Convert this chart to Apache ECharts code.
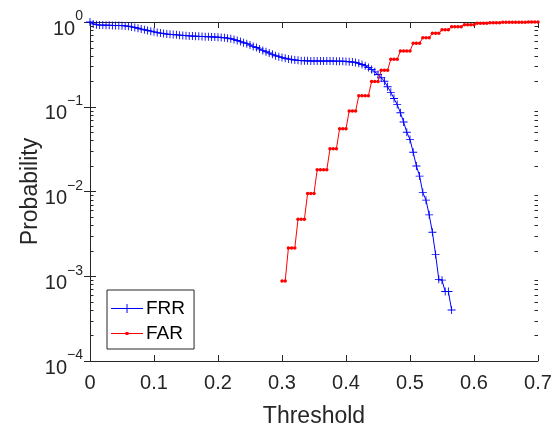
<!DOCTYPE html>
<html><head><meta charset="utf-8">
<script src="https://cdn.jsdelivr.net/npm/echarts@6/dist/echarts.min.js"></script>
<style>html,body{margin:0;padding:0;background:#fff}#c{width:555px;height:426px}</style>
</head><body><div id="c"></div>
<script>
// ---- data ----
const frrThreshold = [0,0.005,0.01,0.015,0.02,0.025,0.03,0.035,0.04,0.045,0.05,0.055,0.06,0.065,0.07,0.075,0.08,0.085,0.09,0.095,0.1,0.105,0.11,0.115,0.12,0.125,0.13,0.135,0.14,0.145,0.15,0.155,0.16,0.165,0.17,0.175,0.18,0.185,0.19,0.195,0.2,0.205,0.21,0.215,0.22,0.225,0.23,0.235,0.24,0.245,0.25,0.255,0.26,0.265,0.27,0.275,0.28,0.285,0.29,0.295,0.3,0.305,0.31,0.315,0.32,0.325,0.33,0.335,0.34,0.345,0.35,0.355,0.36,0.365,0.37,0.375,0.38,0.385,0.39,0.395,0.4,0.405,0.41,0.415,0.42,0.425,0.43,0.435,0.44,0.445,0.45,0.455,0.46,0.465,0.47,0.475,0.48,0.485,0.49,0.495,0.5,0.505,0.51,0.515,0.52,0.525,0.53,0.535,0.54,0.545,0.55,0.555,0.56,0.565];
const frrValue = [1.0,0.95,0.93,0.92,0.92,0.915,0.915,0.91,0.91,0.91,
  0.905,0.9,0.89,0.875,0.86,0.845,0.825,0.81,0.795,0.78,
  0.765,0.75,0.74,0.73,0.72,0.715,0.71,0.705,0.7,0.695,
  0.69,0.685,0.682,0.68,0.677,0.675,0.672,0.67,0.667,0.665,
  0.662,0.658,0.652,0.645,0.635,0.62,0.605,0.59,0.57,0.555,
  0.535,0.515,0.5,0.48,0.46,0.445,0.43,0.415,0.4,0.39,
  0.38,0.373,0.366,0.36,0.356,0.353,0.35,0.349,0.348,0.347,
  0.346,0.346,0.346,0.346,0.346,0.346,0.346,0.345,0.345,0.344,
  0.343,0.34,0.337,0.333,0.325,0.315,0.305,0.29,0.275,0.258,
  0.24,0.22,0.2,0.172,0.148,0.125,0.106,0.085,0.066,0.05,
  0.041,0.029,0.02,0.0152,0.0097,0.0079,0.0053,0.0033,0.0018,0.00092,
  0.0009,0.00066,0.00066,0.0004];
const farThreshold = [0.3,0.305,0.31,0.315,0.32,0.325,0.33,0.335,0.34,0.345,0.35,0.355,0.36,0.365,0.37,0.375,0.38,0.385,0.39,0.395,0.4,0.405,0.41,0.415,0.42,0.425,0.43,0.435,0.44,0.445,0.45,0.455,0.46,0.465,0.47,0.475,0.48,0.485,0.49,0.495,0.5,0.505,0.51,0.515,0.52,0.525,0.53,0.535,0.54,0.545,0.55,0.555,0.56,0.565,0.57,0.575,0.58,0.585,0.59,0.595,0.6,0.605,0.61,0.615,0.62,0.625,0.63,0.635,0.64,0.645,0.65,0.655,0.66,0.665,0.67,0.675,0.68,0.685,0.69,0.695,0.7];
const farValue = [0.00088,0.00088, 0.00215,0.00215,0.00215, 0.0047,0.0047,0.0047,
  0.0095,0.0095,0.0095, 0.018,0.018,0.018,0.018, 0.032,0.032,0.032,
  0.055,0.055,0.055, 0.089,0.089,0.089, 0.135,0.135,0.135,0.135,
  0.198,0.198,0.198, 0.27,0.27,0.27, 0.363,0.363,0.363,
  0.455,0.455,0.455,0.455, 0.56,0.56,0.56, 0.653,0.653,0.653,
  0.735,0.735,0.735, 0.81,0.81,0.81, 0.88,0.88,0.88,0.88,
  0.93,0.93,0.93,0.93, 0.965,0.965,0.965,0.965, 0.98,0.98,0.98,0.98,
  0.99,0.99,0.99,0.99, 0.995,0.995,0.995,0.995, 0.998,0.998,0.998,0.998];
const xTickLabels = ['0','0.1','0.2','0.3','0.4','0.5','0.6','0.7'];
const yTickExponents = ['\u22124','\u22123','\u22122','\u22121','0'];
const minorMultipliers = [2,3,4,5,6,7,8,9];
const decades = [1e-4,1e-3,1e-2,1e-1];

// ---- chart ----
const C = '#262626';
const FONT = '"Liberation Sans", Arial, Helvetica, sans-serif';
const X_MIN = 0, X_MAX = 0.7;

const chart = echarts.init(document.getElementById('c'), null, {renderer: 'canvas'});
const plusPath = 'path://M0,4.45H10V5.55H0Z M4.45,0H5.55V10H4.45Z';
const legendFRR = 'path://M0,4H32V5H0Z M15.5,0H16.5V9H15.5Z';
const legendFAR = 'path://M0,1H32V2H0Z M14.5,0H17.5V3H14.5Z';

chart.setOption({
  animation: false,
  backgroundColor: '#fff',
  textStyle: {fontFamily: FONT, color: C},
  grid: {left: 90, right: 17, top: 22, bottom: 65, containLabel: false, outerBoundsMode: 'none'},
  legend: {
    data: [
      {name: 'FRR', icon: legendFRR, itemStyle: {borderWidth: 0}},
      {name: 'FAR', icon: legendFAR, itemStyle: {borderWidth: 0}}
    ],
    orient: 'vertical',
    left: 107, top: 290,
    padding: [9, 9, 6, 4],
    itemWidth: 32, itemHeight: 9, itemGap: 6,
    symbolKeepAspect: true,
    backgroundColor: '#fff',
    borderColor: C, borderWidth: 1,
    textStyle: {fontSize: 19, color: '#000', fontFamily: FONT, padding: [0,0,0,-2]},
    z: 10
  },
  xAxis: [{
    type: 'value', min: X_MIN, max: X_MAX, interval: 0.1, position: 'bottom',
    axisLine: {lineStyle: {color: C, width: 1}},
    axisTick: {inside: true, length: 6, lineStyle: {color: C, width: 1}},
    axisLabel: {fontSize: 20, color: C, margin: 12, fontFamily: FONT,
      formatter: (v) => xTickLabels[Math.round(v * 10)]},
    splitLine: {show: false},
    name: 'Threshold', nameLocation: 'middle', nameGap: 44, nameMoveOverlap: false,
    nameTextStyle: {fontSize: 23, color: C, fontFamily: FONT}
  }, {
    type: 'value', min: X_MIN, max: X_MAX, interval: 0.1, position: 'top',
    axisLine: {lineStyle: {color: C, width: 1}},
    axisTick: {inside: true, length: 6, lineStyle: {color: C, width: 1}},
    axisLabel: {show: false}, splitLine: {show: false}
  }],
  yAxis: [{
    type: 'log', logBase: 10, min: 1e-4, max: 1, position: 'left',
    axisLine: {show: true, lineStyle: {color: C, width: 1}},
    axisTick: {show: true, inside: true, length: 6, lineStyle: {color: C, width: 1}},
    splitLine: {show: false},
    axisLabel: {
      margin: 7, color: C, fontFamily: FONT,
      formatter: (v) => '{b|10}{s|' + yTickExponents[Math.round(Math.log10(v)) + 4] + '}',
      rich: {
        b: {fontSize: 20, height: 12, lineHeight: 26, verticalAlign: 'bottom', color: C, fontFamily: FONT},
        s: {fontSize: 14, height: 15, lineHeight: 26, verticalAlign: 'top', color: C, fontFamily: FONT}
      }
    },
    name: 'Probability', nameLocation: 'middle', nameGap: 48, nameRotate: 90, nameMoveOverlap: false,
    nameTextStyle: {fontSize: 23, color: C, fontFamily: FONT}
  }, {
    type: 'log', logBase: 10, min: 1e-4, max: 1, position: 'right',
    axisLine: {show: true, lineStyle: {color: C, width: 1}},
    axisTick: {show: true, inside: true, length: 6, lineStyle: {color: C, width: 1}},
    axisLabel: {show: false}, splitLine: {show: false}
  }],
  series: [{
    name: 'FRR', type: 'line',
    data: frrThreshold.map((x, i) => [x, frrValue[i]]),
    symbol: plusPath, symbolSize: 8, showAllSymbol: true,
    lineStyle: {color: '#0000ff', width: 1},
    itemStyle: {color: '#0000ff'},
    z: 3
  }, {
    name: 'FAR', type: 'line',
    data: farThreshold.map((x, i) => [x, farValue[i]]),
    symbol: 'circle', symbolSize: 3.5, showAllSymbol: true,
    lineStyle: {color: '#ff0000', width: 1},
    itemStyle: {color: '#ff0000'},
    z: 4
  }]
});

// minor ticks of the log axis, positioned through the axis scale
const xl = chart.convertToPixel({xAxisIndex: 0}, X_MIN);
const xr = chart.convertToPixel({xAxisIndex: 0}, X_MAX);
const minorEls = [];
decades.forEach(d => minorMultipliers.forEach(m => {
  const y = Math.round(chart.convertToPixel({yAxisIndex: 0}, d * m)) + 0.5;
  minorEls.push({type: 'line', silent: true, z: 20, shape: {x1: xl, y1: y, x2: xl + 3.5, y2: y}, style: {stroke: C, lineWidth: 1}});
  minorEls.push({type: 'line', silent: true, z: 20, shape: {x1: xr - 3.5, y1: y, x2: xr, y2: y}, style: {stroke: C, lineWidth: 1}});
}));
chart.setOption({graphic: {elements: minorEls}});
</script>
</body></html>
